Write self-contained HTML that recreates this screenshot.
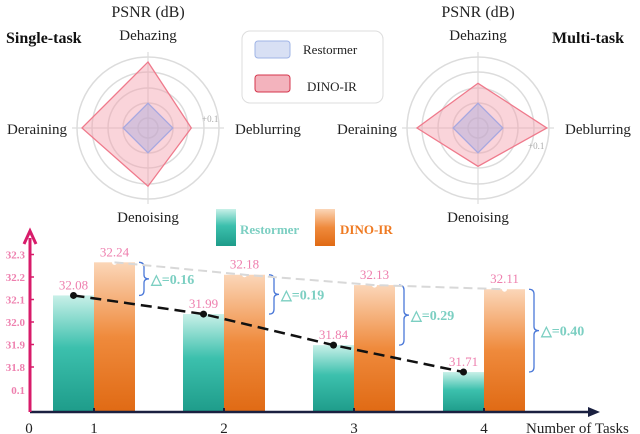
<!DOCTYPE html>
<html><head><meta charset="utf-8"><style>
body{margin:0;background:#fff;}
svg{display:block;font-family:"Liberation Serif",serif;}
</style></head><body>
<svg id="c" width="640" height="434" viewBox="0 0 640 434">
<defs>
<linearGradient id="gt" x1="0" y1="0" x2="0" y2="1"><stop offset="0" stop-color="#c8f0e8"/><stop offset="0.45" stop-color="#3cc0ad"/><stop offset="1" stop-color="#1e9c8a"/></linearGradient>
<linearGradient id="go" x1="0" y1="0" x2="0" y2="1"><stop offset="0" stop-color="#fbd6b8"/><stop offset="0.5" stop-color="#ef8a3c"/><stop offset="1" stop-color="#e06a14"/></linearGradient>
</defs>
<g id="radars"></g>
<g>
<rect x="242" y="31" width="141" height="72" rx="8" fill="#fff" stroke="#ddd"/>
<rect x="255" y="41" width="35" height="17" rx="3" fill="#d8e0f4" stroke="#9fb4e6"/>
<text x="303" y="54" font-size="13" fill="#222">Restormer</text>
<rect x="255" y="75" width="35" height="17" rx="3" fill="#f3b3bd" stroke="#d4364c"/>
<text x="307" y="91" font-size="13" fill="#222">DINO-IR</text>
</g>
<text x="148" y="17" font-size="16" text-anchor="middle" fill="#222">PSNR (dB)</text>
<text x="478" y="17" font-size="16" text-anchor="middle" fill="#222">PSNR (dB)</text>
<text x="6" y="43" font-size="16" font-weight="bold" fill="#111">Single-task</text>
<text x="552" y="43" font-size="16" font-weight="bold" fill="#111">Multi-task</text>
<g id="bars"></g>
</svg>
<script>
const axesNames=["Dehazing","Deblurring","Denoising","Deraining"];
const singleRest=[0.35,0.35,0.35,0.35];
const singleDino=[0.93,0.61,0.82,0.93];
const multiRest=[0.35,0.35,0.35,0.35];
const multiDino=[0.63,0.97,0.54,0.86];

const tasks=[1,2,3,4];
const restVals=[32.08,31.99,31.84,31.71];
const dinoVals=[32.24,32.18,32.13,32.11];
const yTicks=[32.3,32.2,32.1,32.0,31.9,31.8];
const yTickLabels=["32.3","32.2","32.1","32.0","31.9","31.8","0.1"];

const NS="http://www.w3.org/2000/svg";
function mk(tag,attrs,parent,text){const e=document.createElementNS(NS,tag);for(const k in attrs)e.setAttribute(k,attrs[k]);if(text!==undefined)e.textContent=text;parent.appendChild(e);return e;}

const R=71;
const dirs=[[0,-1],[1,0],[0,1],[-1,0]];
function radar(cx,cy,rest,dino,plusPos,side){
  const g=mk('g',{},document.getElementById('radars'));
  
  
  [10,25,40,56,71].forEach(r=>{const c=mk('circle',{cx:cx,cy:cy,r:r,fill:'none',stroke:'#dcdcdc','stroke-width':1.5},g);
    
    });
  mk('line',{x1:cx,y1:cy-R-5,x2:cx,y2:cy+R+5,stroke:'#dcdcdc','stroke-width':1.2},g);
  mk('line',{x1:cx-R-5,y1:cy,x2:cx+R+5,y2:cy,stroke:'#dcdcdc','stroke-width':1.2},g);
  function poly(vals,fill,stroke,name){
    const pts=vals.map((v,i)=>(cx+dirs[i][0]*v*R)+','+(cy+dirs[i][1]*v*R)).join(' ');
    const p=mk('polygon',{points:pts,fill:fill,stroke:stroke,'stroke-width':1.3},g);
    
    
  }
  poly(dino,'rgba(244,160,172,0.45)','#ef7a8c',side+'-dino-polygon');
  poly(rest,'rgba(170,170,220,0.45)','#a8a8e0',side+'-restormer-polygon');
  const lbl=[[cx,cy-88,'middle'],[cx+87,cy+6,'start'],[cx,cy+94,'middle'],[cx-81,cy+6,'end']];
  axesNames.forEach((n,i)=>{const t=mk('text',{x:lbl[i][0],y:lbl[i][1],'text-anchor':lbl[i][2],'font-size':15,fill:'#222'},g,n);
    
    });
  const t=mk('text',{x:plusPos[0],y:plusPos[1],'font-size':9,fill:'#aaa'},g,'+0.1');
  
  
}
radar(148,128,singleRest,singleDino,[202,122],'single-task');
radar(478,128,multiRest,multiDino,[528,149],'multi-task');

// bar chart
const bg=document.getElementById('bars');
const x0=30,xUnit=130,baseY=412;
const xs=t=>x0+64+(t-1)*xUnit;
const yBar=v=>312-(v-32.0)*207;
const yTick=v=>322-(v-32.0)*225;
const bw=41;
tasks.forEach((t,i)=>{
  const cx=xs(t);
  const yr=yBar(restVals[i]),yd=yBar(dinoVals[i]);
  const r=mk('rect',{x:cx-bw,y:yr,width:bw,height:baseY-yr,fill:'url(#gt)'},bg);
  
  
  const d=mk('rect',{x:cx,y:yd,width:bw,height:baseY-yd,fill:'url(#go)'},bg);
  
  
  mk('circle',{cx:cx+bw/2,cy:yd,r:2.5,fill:'#fff'},bg);
  const l1=mk('text',{x:cx-bw/2,y:yr-6,'text-anchor':'middle','font-size':13,fill:'#ee7fae'},bg,restVals[i].toFixed(2));
  
  
  const l2=mk('text',{x:cx+bw/2,y:yd-6,'text-anchor':'middle','font-size':13,fill:'#ee7fae'},bg,dinoVals[i].toFixed(2));
  
  
  const bx=cx+bw+4, mid=(yd+yr)/2;
  const br=mk('path',{d:`M${bx} ${yd} Q${bx+5} ${yd} ${bx+5} ${yd+5} L${bx+5} ${mid-4} Q${bx+5} ${mid} ${bx+10} ${mid} Q${bx+5} ${mid} ${bx+5} ${mid+4} L${bx+5} ${yr-5} Q${bx+5} ${yr} ${bx} ${yr}`,fill:'none',stroke:'#4a78d8','stroke-width':1.3},bg);
  
  
  const dt=mk('text',{x:bx+12,y:mid+5,'font-size':14,'font-weight':'bold',fill:'#7ccfc2'},bg,'△='+(dinoVals[i]-restVals[i]).toFixed(2));
  
  
  mk('line',{x1:cx,y1:baseY-4,x2:cx,y2:baseY,stroke:'#1a2040','stroke-width':2},bg);
  const xl=mk('text',{x:cx,y:433,'text-anchor':'middle','font-size':15,fill:'#222'},bg,String(t));
  
  
});
const gp=tasks.map((t,i)=>(xs(t)+bw/2)+','+yBar(dinoVals[i])).join(' ');
const gl=mk('polyline',{points:gp,fill:'none',stroke:'#d8d8d8','stroke-width':2,'stroke-dasharray':'9,5'},bg);


const bp=tasks.map((t,i)=>(xs(t)-bw/2)+','+yBar(restVals[i])).join(' ');
const bl=mk('polyline',{points:bp,fill:'none',stroke:'#111','stroke-width':2.5,'stroke-dasharray':'11,6'},bg);


tasks.forEach((t,i)=>{const c=mk('circle',{cx:xs(t)-bw/2,cy:yBar(restVals[i]),r:3.5,fill:'#111'},bg);
  
  });
const xa=mk('line',{x1:x0,y1:baseY,x2:592,y2:baseY,stroke:'#1a2040','stroke-width':2.5},bg);


mk('path',{d:'M600 412 L588 407 L588 417 Z',fill:'#1a2040'},bg);
const ya=mk('line',{x1:x0,y1:baseY,x2:x0,y2:238,stroke:'#d81b6a','stroke-width':3},bg);


mk('path',{d:'M24 244 L30 231 L36 244',fill:'none',stroke:'#d81b6a','stroke-width':3},bg);
yTicks.forEach((v,i)=>{
  const y=yTick(v);
  mk('line',{x1:x0,y1:y,x2:x0+4,y2:y,stroke:'#d81b6a','stroke-width':1.5},bg);
  const t=mk('text',{x:25,y:y+4,'text-anchor':'end','font-size':11,'font-weight':'bold',fill:'#ee7fae'},bg,yTickLabels[i]);
  
  
});
const bt=mk('text',{x:25,y:394,'text-anchor':'end','font-size':11,'font-weight':'bold',fill:'#ee7fae'},bg,yTickLabels[6]);


const z=mk('text',{x:29,y:433,'text-anchor':'middle','font-size':15,fill:'#222'},bg,'0');


const xt=mk('text',{x:526,y:433,'font-size':15,fill:'#222'},bg,'Number of Tasks');


const s1=mk('rect',{x:216,y:209,width:20,height:37,fill:'url(#gt)'},bg);


const t1=mk('text',{x:240,y:234,'font-size':13,'font-weight':'bold',fill:'#7ccfc2'},bg,'Restormer');


const s2=mk('rect',{x:315,y:209,width:20,height:37,fill:'url(#go)'},bg);


const t2=mk('text',{x:340,y:234,'font-size':13,'font-weight':'bold',fill:'#ef7a22'},bg,'DINO-IR');


</script>
</body></html>
